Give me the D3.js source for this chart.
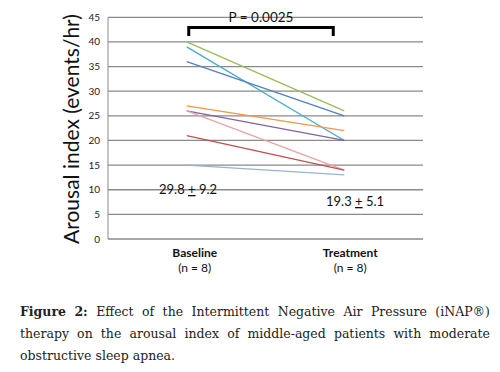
<!DOCTYPE html>
<html><head><meta charset="utf-8">
<script src="https://cdn.jsdelivr.net/npm/d3@7"></script>
<style>body{margin:0;background:#fff;} svg{display:block;}</style>
</head><body>
<svg id="c" width="500" height="372"></svg>
<script>
const categories = ["Baseline", "Treatment"];
const subLabels = ["(n = 8)", "(n = 8)"];
const baseline  = [40, 39, 36, 27, 26, 26, 21, 15];
const treatment = [26, 20, 25, 22, 20, 14, 14, 13];
const seriesColors = ["#9bbb59", "#4bacc6", "#4f81bd", "#f79646", "#8064a2", "#e6a5a3", "#c0504d", "#95b3d7"];
const yTicks = [0, 5, 10, 15, 20, 25, 30, 35, 40, 45];
const meanLabels = ["29.8 ", "19.3 "];
const sdLabels = [" 9.2", " 5.1"];
const pText = "P = 0.0025";
const yTitle = "Arousal index (events/hr)";
const captionLines = [
  "Effect of the Intermittent Negative Air Pressure (iNAP®)",
  "therapy on the arousal index of middle-aged patients with moderate",
  "obstructive sleep apnea."
];

(function () {
const svg = d3.select("#c");
const pl = 108, pr = 423, pt = 17.3, pb = 239;
const x = d3.scaleBand().domain(categories).range([pl, pr]);
const y = d3.scaleLinear().domain([0, 45]).range([pb, pt]);
const sans = "Lato, 'Open Sans', sans-serif";

svg.append("g").selectAll("line").data(yTicks).join("line")
  .attr("x1", pl).attr("x2", pr)
  .attr("y1", d => y(d)).attr("y2", d => y(d))
  .attr("stroke", "#8a8a8a").attr("stroke-width", 1.3);
svg.append("line").attr("x1", pl).attr("x2", pl).attr("y1", y(45)).attr("y2", y(0))
  .attr("stroke", "#8a8a8a").attr("stroke-width", 1);
svg.append("g").selectAll("text").data(yTicks).join("text")
  .attr("x", pl - 8).attr("y", d => y(d) + 3.5)
  .attr("text-anchor", "end").attr("font-family", sans)
  .attr("font-size", 10).attr("fill", "#222").text(d => d);

const xc = c => x(c) + x.bandwidth() / 2;
const pairs = baseline.map((b, i) => ({ b, t: treatment[i], c: seriesColors[i] }));
svg.append("g").selectAll("line").data(pairs).join("line")
  .attr("x1", xc(categories[0])).attr("x2", xc(categories[1]))
  .attr("y1", d => y(d.b)).attr("y2", d => y(d.t))
  .attr("stroke", d => d.c).attr("stroke-width", 1.3);

const bx1 = xc(categories[0]) + 2, bx2 = xc(categories[1]) - 11;
svg.append("path")
  .attr("d", `M${bx1},36 V27.5 H${bx2} V36`)
  .attr("fill", "none").attr("stroke", "#000").attr("stroke-width", 3);
svg.append("text").attr("x", (bx1 + bx2) / 2).attr("y", 22)
  .attr("text-anchor", "middle").attr("font-family", sans)
  .attr("font-size", 13.5).attr("fill", "#111").text(pText);

const meanPos = [[159, 194], [326, 206]];
meanPos.forEach((p, i) => {
  const t = svg.append("text").attr("x", p[0]).attr("y", p[1])
    .attr("font-family", sans).attr("font-size", 13).attr("fill", "#111");
  t.append("tspan").text(meanLabels[i]);
  t.append("tspan").attr("text-decoration", "underline").text("+");
  t.append("tspan").text(sdLabels[i]);
});

const lblOff = [8, 6];
categories.forEach((c, i) => {
  svg.append("text").attr("x", xc(c) + lblOff[i]).attr("y", 257)
    .attr("text-anchor", "middle").attr("font-family", sans)
    .attr("font-weight", "bold").attr("font-size", 12).attr("fill", "#111").text(c);
  svg.append("text").attr("x", xc(c) + lblOff[i]).attr("y", 272)
    .attr("text-anchor", "middle").attr("font-family", sans)
    .attr("font-size", 12).attr("fill", "#111").text(subLabels[i]);
});

svg.append("text").attr("transform", "translate(79,129) rotate(-90)")
  .attr("text-anchor", "middle").attr("font-family", sans)
  .attr("font-size", 21).attr("fill", "#111").text(yTitle);

const capX0 = 20, capX1 = 490, capY = [316, 338, 360];
const capFont = "'DejaVu Serif', 'Liberation Serif', serif";
function justifyLine(words, yy, justify) {
  const g = svg.append("g");
  const nodes = words.map(w => g.append("text").attr("y", yy)
    .attr("font-family", capFont).attr("font-size", 12.5).attr("fill", "#222")
    .attr("font-weight", w.bold ? "bold" : "normal").text(w.t));
  const widths = nodes.map(n => n.node().getComputedTextLength());
  const total = d3.sum(widths);
  const space = justify && words.length > 1 ? (capX1 - capX0 - total) / (words.length - 1) : 4;
  let cx = capX0;
  nodes.forEach((n, i) => { n.attr("x", cx); cx += widths[i] + space; });
}
const line0 = [{ t: "Figure", bold: true }, { t: "2:", bold: true }]
  .concat(captionLines[0].split(" ").map(t => ({ t })));
justifyLine(line0, capY[0], true);
justifyLine(captionLines[1].split(" ").map(t => ({ t })), capY[1], true);
justifyLine(captionLines[2].split(" ").map(t => ({ t })), capY[2], false);
})();
</script>
</body></html>
